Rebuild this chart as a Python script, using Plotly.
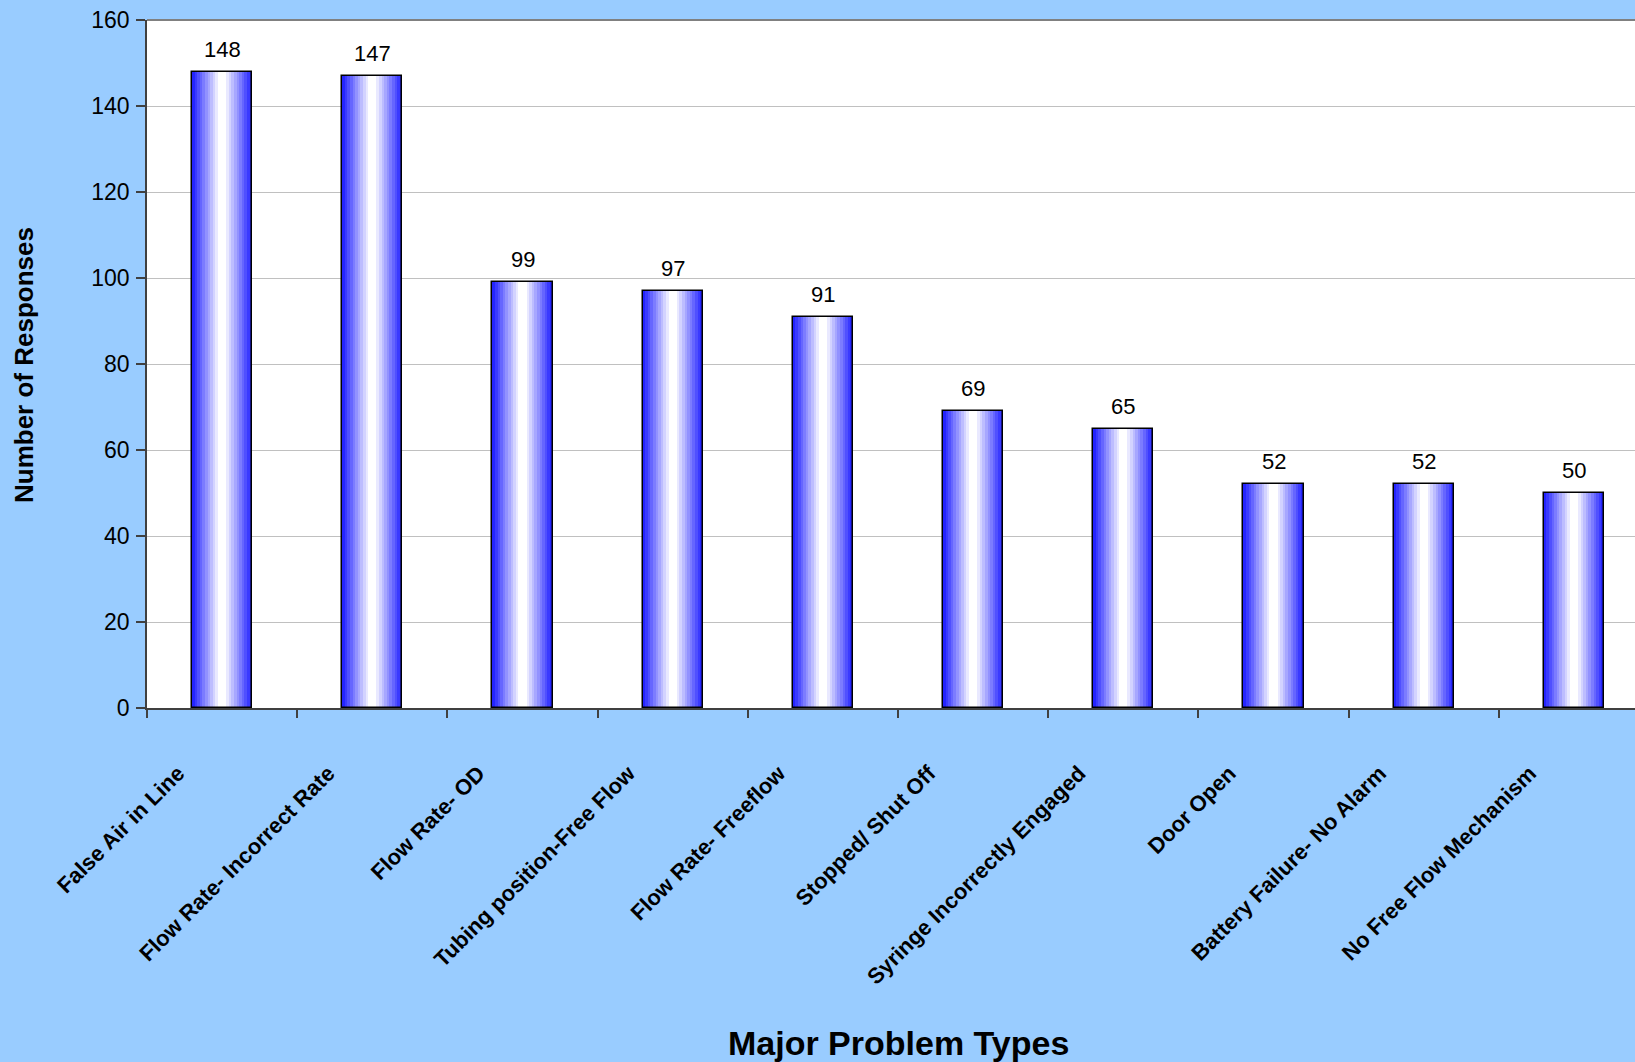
import plotly.graph_objects as go

# Survey results: reported infusion-pump problem types
categories = [
    "False Air in Line",
    "Flow Rate- Incorrect Rate",
    "Flow Rate- OD",
    "Tubing position-Free Flow",
    "Flow Rate- Freeflow",
    "Stopped/ Shut Off",
    "Syringe Incorrectly Engaged",
    "Door Open",
    "Battery Failure- No Alarm",
    "No Free Flow Mechanism",
]
responses = [148, 147, 99, 97, 91, 69, 65, 52, 52, 50]
y_ticks = [0, 20, 40, 60, 80, 100, 120, 140, 160]

FONT = "Liberation Sans, Arial, sans-serif"
W, H = 1635, 1062
L, T, B = 147, 20, 708          # plot-area pixel edges
PW, PH = W - L, B - T
SLOT = 150.2                    # pixels per category

def px_x(px):
    return (px - L) / PW

def px_y(py):
    return (B - py) / PH

fig = go.Figure()

# Cylinder-like shading: nested bars getting narrower and lighter toward the centre
n_layers = 11
base_w = 0.40
dark = (36, 36, 255)
for k in range(n_layers):
    f = k / (n_layers - 1)
    col = tuple(int(round(dark[i] + (255 - dark[i]) * f)) for i in range(3))
    w = base_w * (1 - k / (n_layers + 0.6))
    fig.add_trace(go.Bar(
        x=categories, y=responses, width=w,
        marker=dict(color="rgb(%d,%d,%d)" % col, line=dict(width=0)),
        hoverinfo="skip", showlegend=False,
    ))

# Outline over the shaded bars
fig.add_trace(go.Bar(
    x=categories, y=responses, width=base_w,
    marker=dict(color="rgba(0,0,0,0)", line=dict(color="#000000", width=1.5)),
    showlegend=False,
))

# Value labels above each bar
for c, v in zip(categories, responses):
    fig.add_annotation(
        x=c, y=v, text=str(v), showarrow=False, yanchor="bottom", yshift=8,
        font=dict(family=FONT, size=22, color="#000000"),
    )

# Axis titles
fig.add_annotation(
    xref="paper", yref="paper", x=px_x(898), y=px_y(1043),
    text="<b>Major Problem Types</b>", showarrow=False,
    xanchor="center", yanchor="middle",
    font=dict(family=FONT, size=34, color="#000000"),
)
fig.add_annotation(
    xref="paper", yref="paper", x=px_x(24), y=px_y(365),
    text="<b>Number of Responses</b>", showarrow=False, textangle=-90,
    xanchor="center", yanchor="middle",
    font=dict(family=FONT, size=26, color="#000000"),
)

# Plot-area top border
fig.add_shape(type="line", xref="paper", yref="paper", x0=0, x1=1, y0=1, y1=1,
              line=dict(color="#808080", width=2))

fig.update_layout(
    width=W, height=H,
    margin=dict(l=L, r=0, t=T, b=H - B),
    paper_bgcolor="#99CCFF",
    plot_bgcolor="#FFFFFF",
    barmode="overlay",
    bargap=0,
    showlegend=False,
    font=dict(family=FONT, color="#000000"),
    xaxis=dict(
        type="category",
        range=[-0.5, -0.5 + PW / SLOT],
        tickson="boundaries",
        ticks="outside", ticklen=8, tickwidth=1.5, tickcolor="#404040",
        showline=True, linecolor="#404040", linewidth=1.5,
        showgrid=False,
        tickangle=-45,
        tickfont=dict(family=FONT, size=22, color="#000000", weight="bold"),
        ticklabelstandoff=42,
        ticklabelshift=-44,
    ),
    yaxis=dict(
        range=[0, 160],
        tickvals=y_ticks,
        ticks="outside", ticklen=9, tickwidth=1.5, tickcolor="#404040",
        showline=True, linecolor="#404040", linewidth=1.5,
        showgrid=True, gridcolor="#C0C0C0", gridwidth=1,
        zeroline=False,
        tickfont=dict(family=FONT, size=23, color="#000000"),
        ticklabelstandoff=2,
    ),
)

fig.write_html("out.html")
